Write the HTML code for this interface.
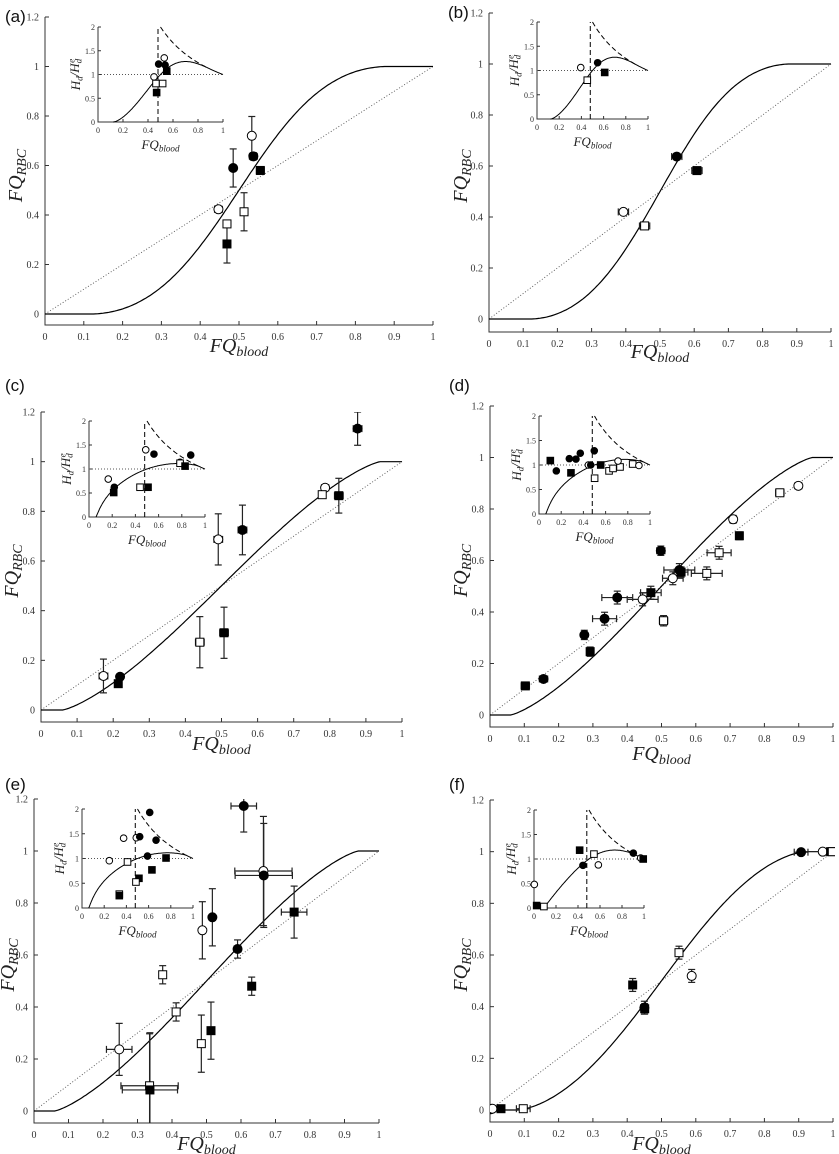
<!DOCTYPE html>
<html><head><meta charset="utf-8">
<style>
html,body{margin:0;padding:0;background:#fff;}
svg{display:block;}
.tk{font-family:"Liberation Serif",serif;font-size:10px;fill:#333;}
.itk{font-family:"Liberation Serif",serif;font-size:8px;fill:#333;}
.lab{font-family:"Liberation Serif",serif;font-style:italic;font-size:20px;fill:#222;}
.ilab{font-family:"Liberation Serif",serif;font-style:italic;font-size:13px;fill:#222;}
.pl{font-family:"Liberation Sans",sans-serif;font-size:17px;fill:#111;}
</style></head>
<body>
<svg id="fig" width="839" height="1154" viewBox="0 0 839 1154" xmlns="http://www.w3.org/2000/svg"></svg>
<script>
// ---- model parameters per panel ----
const modelX0 = [0.12, 0.12, 0.06, 0.06, 0.06, 0.08];
const modelB  = [1.8, 1.8, 1.26, 1.26, 1.26, 1.5];
const xTicks = [0,0.1,0.2,0.3,0.4,0.5,0.6,0.7,0.8,0.9,1];
const xTickLabels = ["0","0.1","0.2","0.3","0.4","0.5","0.6","0.7","0.8","0.9","1"];
const yTicks = [0,0.2,0.4,0.6,0.8,1,1.2];
const yTickLabels = ["0","0.2","0.4","0.6","0.8","1","1.2"];
const ixTicks = [0,0.2,0.4,0.6,0.8,1];
const ixTickLabels = ["0","0.2","0.4","0.6","0.8","1"];
const iyTicks = [0,0.5,1,1.5,2];
const iyTickLabels = ["0","0.5","1","1.5","2"];

// ---- panel (a) ----
const aX  = [0.485,0.533,0.537,0.555,0.447,0.469,0.469,0.513];
const aY  = [0.59,0.72,0.637,0.58,0.423,0.364,0.283,0.413];
const aYE = [0.077,0.078,0.015,0.015,0.012,0.012,0.077,0.077];
const aXE = [0,0,0.01,0.01,0.01,0.01,0,0];
const aM  = ["fc","oc","fc","fs","oc","os","fs","os"];
const aIX = [0.448,0.464,0.517,0.469,0.485,0.53,0.537,0.55];
const aIY = [0.95,0.81,0.81,0.62,1.22,1.35,1.2,1.07];
const aIM = ["oc","os","os","fs","fc","oc","fc","fs"];
// ---- panel (b) ----
const bX  = [0.549,0.608,0.393,0.455];
const bY  = [0.637,0.582,0.42,0.365];
const bYE = [0.012,0.012,0.01,0.01];
const bXE = [0.015,0.015,0.015,0.015];
const bM  = ["fc","fs","oc","os"];
const bIX = [0.394,0.546,0.453,0.61];
const bIY = [1.06,1.16,0.80,0.96];
const bIM = ["oc","fc","os","fs"];
// ---- panel (c) ----
const cX  = [0.877,0.787,0.779,0.825,0.558,0.491,0.507,0.44,0.173,0.219,0.214];
const cY  = [1.133,0.895,0.867,0.863,0.725,0.687,0.311,0.273,0.137,0.134,0.106];
const cYE = [0.067,0.01,0.01,0.07,0.1,0.103,0.103,0.103,0.068,0.01,0.01];
const cXE = [0.012,0.01,0.01,0.012,0.012,0.012,0.012,0.012,0.012,0.008,0.008];
const cM  = ["fc","oc","os","fs","fc","oc","fs","os","oc","fc","fs"];
const cIX = [0.166,0.218,0.213,0.44,0.509,0.489,0.56,0.877,0.785,0.785,0.828];
const cIY = [0.79,0.62,0.51,0.62,0.62,1.40,1.31,1.29,1.14,1.12,1.06];
const cIM = ["oc","fc","fs","os","fs","oc","fc","fc","oc","os","fs"];
// ---- panel (d) ----
const dX  = [0.103,0.156,0.275,0.292,0.334,0.371,0.445,0.469,0.498,0.506,0.533,0.552,0.557,0.632,0.668,0.709,0.727,0.845,0.899];
const dY  = [0.113,0.14,0.311,0.246,0.374,0.456,0.449,0.475,0.638,0.366,0.531,0.563,0.555,0.55,0.63,0.76,0.696,0.863,0.89];
const dYE = [0.008,0.01,0.018,0.018,0.025,0.025,0.025,0.025,0.018,0.02,0.025,0.025,0.02,0.025,0.025,0.015,0.015,0.008,0.008];
const dXE = [0.012,0.012,0.008,0.008,0.035,0.045,0.045,0.03,0.012,0.012,0.03,0.045,0.02,0.045,0.035,0.01,0.01,0.012,0.01];
const dM  = ["fs","fc","fc","fs","fc","fc","oc","fs","fc","os","oc","fc","fs","os","os","oc","fs","os","oc"];
const dIX = [0.102,0.156,0.288,0.273,0.333,0.372,0.498,0.445,0.466,0.556,0.501,0.631,0.667,0.73,0.712,0.844,0.9];
const dIY = [1.09,0.88,0.84,1.13,1.12,1.24,1.29,1.0,1.0,1.0,0.73,0.88,0.93,0.96,1.08,1.02,0.99];
const dIM = ["fs","fc","fs","fc","fc","fc","fc","oc","fc","fs","os","os","os","os","oc","os","oc"];
// ---- panel (e) ----
const eX  = [0.608,0.665,0.666,0.754,0.517,0.488,0.59,0.373,0.631,0.412,0.513,0.485,0.247,0.335,0.336];
const eY  = [1.173,0.923,0.906,0.765,0.745,0.695,0.623,0.524,0.48,0.381,0.309,0.259,0.237,0.097,0.081];
const eYE = [0.1,0.21,0.2,0.1,0.11,0.11,0.035,0.035,0.035,0.035,0.11,0.11,0.1,0.2,0.22];
const eXE = [0.037,0.083,0.083,0.037,0,0,0.01,0.008,0.008,0.01,0,0,0.037,0.083,0.08];
const eM  = ["fc","oc","fc","fs","fc","oc","fc","os","fs","os","fs","os","oc","os","fs"];
const eIX = [0.61,0.375,0.489,0.52,0.667,0.59,0.757,0.246,0.41,0.63,0.513,0.486,0.336,0.336];
const eIY = [1.93,1.41,1.42,1.44,1.37,1.05,1.01,0.955,0.93,0.77,0.60,0.525,0.28,0.25];
const eIM = ["fc","oc","oc","fc","fc","fc","fs","oc","os","fs","fs","os","os","fs"];
// ---- panel (f) ----
const fX  = [0.002,0.007,0.032,0.097,0.416,0.45,0.451,0.551,0.588,0.907,0.97,0.993,0.998];
const fY  = [0.003,0.005,0.005,0.005,0.484,0.396,0.392,0.609,0.519,0.998,1.0,1.0,1.0];
const fYE = [0,0,0,0,0.025,0.025,0.02,0.025,0.025,0,0,0,0];
const fXE = [0.008,0.008,0.008,0.02,0.01,0.01,0.01,0.008,0.008,0.02,0.008,0.005,0.005];
const fM  = ["fc","oc","fs","os","fs","fc","fs","os","oc","fc","oc","fs","os"];
const fIX = [0.003,0.024,0.09,0.415,0.445,0.545,0.585,0.903,0.97,0.993];
const fIY = [0.48,0.05,0.03,1.18,0.87,1.10,0.88,1.12,1.02,1.0];
const fIM = ["oc","fs","os","fs","fc","os","oc","fc","oc","fs"];

// ---- layout (pixel geometry, not data) ----
const panels = [
 {id:"a",x0:45,x1:433,yz:314,yt:17,yb:325,lx:5,ly:22,xlY:352,ylX:22,
  ins:{x0:98,x1:223,y0:122,y2:27}, X:aX,Y:aY,YE:aYE,XE:aXE,M:aM,IX:aIX,IY:aIY,IM:aIM},
 {id:"b",x0:489,x1:831,yz:319,yt:13,yb:332,lx:448,ly:18,xlY:358,ylX:467,
  ins:{x0:537,x1:648,y0:119,y2:22}, X:bX,Y:bY,YE:bYE,XE:bXE,M:bM,IX:bIX,IY:bIY,IM:bIM},
 {id:"c",x0:41,x1:402,yz:710,yt:412,yb:722,lx:5,ly:391,xlY:750,ylX:18,
  ins:{x0:89,x1:205,y0:517,y2:421}, X:cX,Y:cY,YE:cYE,XE:cXE,M:cM,IX:cIX,IY:cIY,IM:cIM},
 {id:"d",x0:490,x1:833,yz:715,yt:406,yb:727,lx:449,ly:391,xlY:760,ylX:467,
  ins:{x0:539,x1:650,y0:514,y2:416}, X:dX,Y:dY,YE:dYE,XE:dXE,M:dM,IX:dIX,IY:dIY,IM:dIM},
 {id:"e",x0:34,x1:379,yz:1111,yt:799,yb:1123,lx:5,ly:790,xlY:1150,ylX:14,
  ins:{x0:82,x1:193,y0:908,y2:809}, X:eX,Y:eY,YE:eYE,XE:eXE,M:eM,IX:eIX,IY:eIY,IM:eIM},
 {id:"f",x0:490,x1:833,yz:1110,yt:800,yb:1122,lx:449,ly:790,xlY:1150,ylX:467,
  ins:{x0:534,x1:644,y0:908,y2:810}, X:fX,Y:fY,YE:fYE,XE:fXE,M:fM,IX:fIX,IY:fIY,IM:fIM}
];

const NS="http://www.w3.org/2000/svg";
const svg=document.getElementById("fig");
function mk(tag,attrs,parent){const e=document.createElementNS(NS,tag);for(const k in attrs)e.setAttribute(k,attrs[k]);(parent||svg).appendChild(e);return e;}
function model(v,i){const x0=modelX0[i],B=modelB[i];if(v<=x0)return 0;if(v>=1-x0)return 1;const t=(v-x0)/(1-2*x0);const a=Math.pow(t,B),b=Math.pow(1-t,B);return a/(a+b);}

function marker(g,type,cx,cy,r){
  let el;
  if(type==="fc"||type==="oc"){
    el=mk("circle",{cx:cx,cy:cy,r:r,fill:type==="fc"?"#000":"#fff",stroke:"#000","stroke-width":1},g);
  }else{
    el=mk("rect",{x:cx-r,y:cy-r,width:2*r,height:2*r,fill:type==="fs"?"#000":"#fff",stroke:"#000","stroke-width":1},g);
  }
  
  
}

function subLabel(parent,x,y,main,sub,cls,rot){
  const t=mk("text",{x:x,y:y,"text-anchor":"middle",class:cls},parent);
  if(rot)t.setAttribute("transform","rotate(-90 "+x+" "+y+")");
  const s1=mk("tspan",{},t);s1.textContent=main;
  const s2=mk("tspan",{"font-size":"0.7em",dy:"0.3em"},t);s2.textContent=sub;
  return t;
}

panels.forEach((p,i)=>{
  const g=mk("g",{});
  
  
  const sx=v=>p.x0+v*(p.x1-p.x0);
  const sy=v=>p.yz-v*(p.yz-p.yt)/1.2;
  const pl=mk("text",{x:p.lx,y:p.ly,class:"pl"},g);pl.textContent="("+p.id+")";
  
  const ax=mk("path",{d:`M${p.x0},${p.yt} V${p.yb} H${p.x1}`,fill:"none",stroke:"#333","stroke-width":1},g);
  
  yTicks.forEach((v,k)=>{
    mk("line",{x1:p.x0,x2:p.x0+4,y1:sy(v),y2:sy(v),stroke:"#333"},g);
    const t=mk("text",{x:p.x0-6,y:sy(v)+3.5,"text-anchor":"end",class:"tk"},g);t.textContent=yTickLabels[k];
    
  });
  xTicks.forEach((v,k)=>{
    mk("line",{x1:sx(v),x2:sx(v),y1:p.yb,y2:p.yb-4,stroke:"#333"},g);
    const t=mk("text",{x:sx(v),y:p.yb+15,"text-anchor":"middle",class:"tk"},g);t.textContent=xTickLabels[k];
    
  });
  const xl=subLabel(g,(p.x0+p.x1)/2,p.xlY,"FQ","blood","lab",false);
  
  const yl=subLabel(g,p.ylX,(p.yz+p.yt)/2+10,"FQ","RBC","lab",true);
  
  const cp=mk("clipPath",{id:"clip"+p.id},g);
  mk("rect",{x:p.x0,y:p.yt,width:p.x1-p.x0+2,height:p.yb-p.yt},cp);
  const pg=mk("g",{"clip-path":"url(#clip"+p.id+")"},g);
  const dg=mk("line",{x1:sx(0),y1:sy(0),x2:sx(1),y2:sy(1),stroke:"#555","stroke-width":0.9,"stroke-dasharray":"1,2"},pg);
  
  let d="";for(let v=0;v<=1.0001;v+=0.005){d+=(d?"L":"M")+sx(v).toFixed(1)+","+sy(model(v,i)).toFixed(1);}
  const mc=mk("path",{d:d,fill:"none",stroke:"#000","stroke-width":1.2},pg);
  
  p.X.forEach((xv,k)=>{
    const cx=sx(xv),cy=sy(p.Y[k]);
    if(p.YE[k]>0){const y1=sy(p.Y[k]+p.YE[k]),y2=sy(p.Y[k]-p.YE[k]);
      mk("line",{x1:cx,x2:cx,y1:y1,y2:y2,stroke:"#222","stroke-width":1.2},pg);
      mk("line",{x1:cx-3.5,x2:cx+3.5,y1:y1,y2:y1,stroke:"#222","stroke-width":1.2},pg);
      mk("line",{x1:cx-3.5,x2:cx+3.5,y1:y2,y2:y2,stroke:"#222","stroke-width":1.2},pg);}
    if(p.XE[k]>0){const x1=sx(xv-p.XE[k]),x2=sx(xv+p.XE[k]);
      mk("line",{x1:x1,x2:x2,y1:cy,y2:cy,stroke:"#222","stroke-width":1.2},pg);
      mk("line",{x1:x1,x2:x1,y1:cy-3.5,y2:cy+3.5,stroke:"#222","stroke-width":1.2},pg);
      mk("line",{x1:x2,x2:x2,y1:cy-3.5,y2:cy+3.5,stroke:"#222","stroke-width":1.2},pg);}
  });
  p.X.forEach((xv,k)=>{marker(pg,p.M[k],sx(xv),sy(p.Y[k]),p.M[k][1]==="c"?4.5:4);});
  const I=p.ins;const ig=mk("g",{},g);
  
  const ix=v=>I.x0+v*(I.x1-I.x0);const iy=v=>I.y0-v*(I.y0-I.y2)/2;
  mk("path",{d:`M${I.x0},${I.y2} V${I.y0} H${I.x1}`,fill:"none",stroke:"#333","stroke-width":1},ig);
  iyTicks.forEach((v,k)=>{mk("line",{x1:I.x0,x2:I.x0+3,y1:iy(v),y2:iy(v),stroke:"#333"},ig);
    const t=mk("text",{x:I.x0-3,y:iy(v)+3,"text-anchor":"end",class:"itk"},ig);t.textContent=iyTickLabels[k];});
  ixTicks.forEach((v,k)=>{mk("line",{x1:ix(v),x2:ix(v),y1:I.y0,y2:I.y0-3,stroke:"#333"},ig);
    const t=mk("text",{x:ix(v),y:I.y0+11,"text-anchor":"middle",class:"itk"},ig);t.textContent=ixTickLabels[k];});
  const ixl=subLabel(ig,(I.x0+I.x1)/2,I.y0+27,"FQ","blood","ilab",false);
  
  const iyl=mk("text",{x:I.x0-18,y:(I.y0+I.y2)/2,"text-anchor":"middle",class:"ilab",transform:`rotate(-90 ${I.x0-18} ${(I.y0+I.y2)/2})`},ig);
  
  let s=mk("tspan",{},iyl);s.textContent="H";s=mk("tspan",{"font-size":"0.7em",dy:"0.3em"},iyl);s.textContent="d";
  s=mk("tspan",{dy:"-0.3em"},iyl);s.textContent="/H";s=mk("tspan",{"font-size":"0.7em",dy:"0.3em"},iyl);s.textContent="d";
  s=mk("tspan",{"font-size":"0.7em",dy:"-0.75em",dx:"-0.45em"},iyl);s.textContent="e";
  mk("line",{x1:I.x0,x2:I.x1,y1:iy(1),y2:iy(1),stroke:"#555","stroke-width":0.9,"stroke-dasharray":"1,2"},ig);
  let d2="";for(let v=modelX0[i];v<=1.0001;v+=0.005){d2+=(d2?"L":"M")+ix(v).toFixed(1)+","+iy(model(v,i)/v).toFixed(1);}
  mk("path",{d:d2,fill:"none",stroke:"#000","stroke-width":1},ig);
  let d3=`M${ix(0.48)},${iy(0)} V${iy(2)} M${ix(0.5)},${iy(2)}`;
  for(let v=0.5;v<=1-modelX0[i]+0.0001;v+=0.01){d3+="L"+ix(v).toFixed(1)+","+iy(1/v).toFixed(1);}
  const db=mk("path",{d:d3,fill:"none",stroke:"#000","stroke-width":1,"stroke-dasharray":"5,3"},ig);
  
  p.IX.forEach((xv,k)=>{marker(ig,p.IM[k],ix(xv),iy(p.IY[k]),3.3);});
});
</script>
</body></html>
